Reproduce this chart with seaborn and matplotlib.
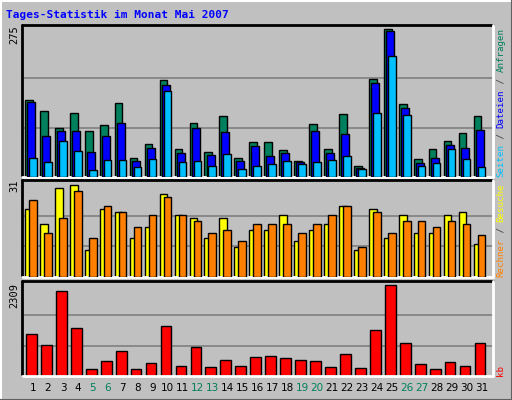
import matplotlib
matplotlib.use("Agg")
import matplotlib.pyplot as plt
import seaborn as sns
import pandas as pd
from matplotlib.lines import Line2D

days = list(range(1, 32))
weekend = [5, 6, 12, 13, 19, 20, 26, 27]
hits = [143,123,91,119,85,97,138,35,61,180,52,100,46,113,35,65,65,50,30,98,52,117,20,182,275,136,33,52,67,82,113]
files = [139,76,85,85,46,76,100,30,54,171,45,91,41,84,30,58,39,45,28,85,45,80,17,175,271,128,26,35,59,54,87]
pages = [35,28,67,48,13,32,32,19,33,160,28,30,20,43,15,20,24,30,24,28,32,39,15,119,225,115,20,26,52,33,19]
visits = [23,18,30,31,9,23,22,13,17,28,21,20,13,20,10,16,16,21,12,16,18,24,9,23,13,21,15,15,21,22,11]
sites = [26,15,20,29,13,24,22,17,21,27,21,19,15,16,12,18,18,18,15,18,21,24,10,22,15,19,19,17,19,18,14]
kbytes = [1066,787,2157,1218,178,381,634,178,330,1269,254,736,228,406,254,482,507,457,406,381,228,558,203,1167,2309,837,304,178,355,254,837]

GREEN, BLUE, CYAN = "#00805c", "#0000ff", "#00c0ff"
YEL, ORA, RED = "#ffff00", "#ff8000", "#ff0000"
BG = "#c0c0c0"

sns.set_style("white")
W, H = 512, 400
fig = plt.figure(figsize=(5.12, 4.0), dpi=100, facecolor=BG)

def fx(px): return px / W
def fy(py): return 1 - py / H

def make_ax(top, bottom):
    ax = fig.add_axes([fx(22), fy(bottom), fx(493 - 22), (bottom - top) / H])
    ax.set_facecolor(BG)
    for s in ax.spines.values():
        s.set_visible(False)
    ax.set_xticks([]); ax.set_yticks([])
    ax.set_xlim(0.26, 31.76)
    return ax

def bars(ax, vals, color, center, width, z):
    df = pd.DataFrame({"x": [d + center for d in days], "y": vals})
    sns.barplot(data=df, x="x", y="y", native_scale=True, width=width, color=color,
                edgecolor="black", linewidth=1.0, saturation=1, ax=ax, zorder=z)
    ax.set_xlabel(""); ax.set_ylabel("")

def grid(ax, mx, ymax):
    for g in (mx / 3, 2 * mx / 3):
        ax.axhline(g, color="#808080", lw=1.2, zorder=0)
    ax.set_ylim(0, ymax)
    ax.set_xlim(0.26, 31.76)
    ax.plot([0, 0], [0, 1], transform=ax.transAxes, color="black", lw=2, clip_on=False)
    ax.plot([0, 1], [1, 1], transform=ax.transAxes, color="black", lw=2, clip_on=False)
    ax.plot([1, 1], [0, 1], transform=ax.transAxes, color="white", lw=2, clip_on=False)
    ax.plot([0, 1], [0, 0], transform=ax.transAxes, color="white", lw=2, clip_on=False)

ax1 = make_ax(25, 177)
bars(ax1, hits, GREEN, -0.535 + 0.2575, 0.515, 2)
bars(ax1, files, BLUE, -0.40 + 0.2675, 0.535, 3)
bars(ax1, pages, CYAN, -0.27 + 0.2575, 0.515, 4)
grid(ax1, 275, 282)

ax2 = make_ax(180, 277)
bars(ax2, visits, YEL, -0.535 + 0.2575, 0.515, 2)
bars(ax2, sites, ORA, -0.27 + 0.2575, 0.515, 3)
grid(ax2, 31, 32.7)

ax3 = make_ax(281, 376)
bars(ax3, kbytes, RED, -0.47 + 0.36, 0.72, 2)
grid(ax3, 2309, 2410)

mono = "DejaVu Sans Mono"
fig.text(fx(6), fy(15), "Tages-Statistik im Monat Mai 2007", color=BLUE, fontsize=8,
         fontweight="bold", family=mono, va="center", ha="left")

for txt, top in (("275", 25), ("31", 180), ("2309", 283)):
    fig.text(fx(14), fy(top), txt, rotation=90, fontsize=7.5, family=mono,
             ha="center", va="top", color="black")

for d in days:
    x = 22 + (d - 0.26) / 31.5 * 471
    fig.text(fx(x), fy(388), str(d), fontsize=7.5, family="DejaVu Sans",
             ha="center", va="center", color=GREEN if d in weekend else "black")

FS = 6.6
cw = 0.6 * FS * 100 / 72
def stacked(segments, start_py):
    py = start_py
    for txt, col in segments:
        fig.text(fx(501), fy(py), txt, rotation=90, fontsize=FS, family=mono,
                 ha="center", va="bottom", color=col)
        py -= len(txt) * cw

stacked([("Seiten", CYAN), (" / ", "#404040"), ("Dateien", BLUE), (" / ", "#404040"), ("Anfragen", GREEN)], 177)
stacked([("Rechner", ORA), (" / ", "#404040"), ("Besuche", YEL)], 277)
stacked([("kb", RED)], 376)

fig.add_artist(Line2D([0, 1], [1 - 0.5 / H] * 2, color="white", lw=1.5, transform=fig.transFigure))
fig.add_artist(Line2D([0.5 / W] * 2, [0, 1], color="white", lw=1.5, transform=fig.transFigure))
fig.add_artist(Line2D([0, 1], [0.5 / H] * 2, color="#606060", lw=1.5, transform=fig.transFigure))
fig.add_artist(Line2D([1 - 0.5 / W] * 2, [0, 1], color="#606060", lw=1.5, transform=fig.transFigure))

fig.savefig("out.png", dpi=100, facecolor=BG)
